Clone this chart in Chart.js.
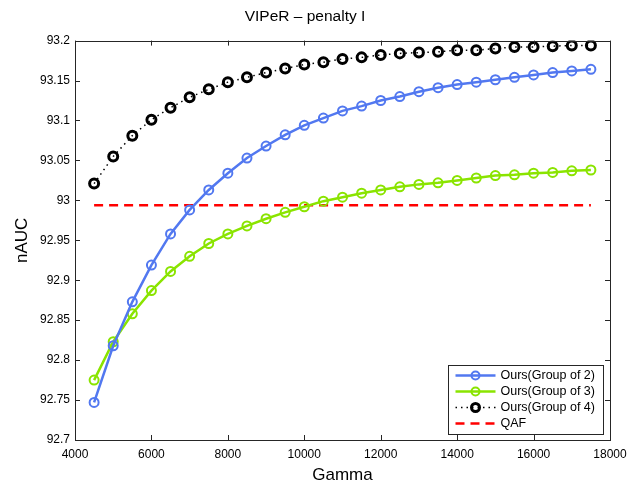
<!DOCTYPE html>
<html><head><meta charset="utf-8">
<script src="https://cdn.jsdelivr.net/npm/chart.js@4.4.0/dist/chart.umd.min.js"></script>
<style>html,body{margin:0;padding:0;background:#fff}canvas{display:block}</style>
</head><body>
<canvas id="c" width="644" height="488"></canvas>
<script>
const gammas = [4500,5000,5500,6000,6500,7000,7500,8000,8500,9000,9500,10000,10500,11000,11500,12000,12500,13000,13500,14000,14500,15000,15500,16000,16500,17000,17500];
const group2 = [92.747,92.818,92.873,92.919,92.958,92.988,93.013,93.034,93.053,93.068,93.082,93.094,93.103,93.112,93.118,93.125,93.130,93.136,93.141,93.145,93.148,93.151,93.154,93.157,93.160,93.162,93.164];
const group3 = [92.775,92.823,92.858,92.887,92.911,92.930,92.946,92.958,92.968,92.977,92.985,92.992,92.999,93.004,93.009,93.013,93.017,93.020,93.022,93.025,93.028,93.031,93.032,93.034,93.035,93.037,93.038];
const group4 = [93.021,93.055,93.081,93.101,93.116,93.129,93.139,93.148,93.154,93.160,93.165,93.170,93.173,93.177,93.179,93.182,93.184,93.185,93.186,93.188,93.188,93.190,93.192,93.192,93.193,93.194,93.194];
const qafValue = 92.994;
const xTickValues = [4000,6000,8000,10000,12000,14000,16000,18000];
const yTickValues = [92.7,92.75,92.8,92.85,92.9,92.95,93,93.05,93.1,93.15,93.2];
const seriesNames = ['Ours(Group of 2)','Ours(Group of 3)','Ours(Group of 4)','QAF'];
const titleText = 'VIPeR \u2013 penalty I';
const xTitle = 'Gamma';
const yTitle = 'nAUC';

const FONT = '"Liberation Sans", Arial, Helvetica, sans-serif';
const pts = arr => gammas.map((g,i)=>({x:g,y:arr[i]}));
const CLEAR = 'rgba(0,0,0,0)';

const datasets = [
  {label:seriesNames[0], data:pts(group2), borderColor:'rgb(82,120,240)', borderWidth:2.5,
   pointRadius:4.5, pointBorderWidth:2, pointBorderColor:'rgb(82,120,240)', pointBackgroundColor:CLEAR},
  {label:seriesNames[1], data:pts(group3), borderColor:'rgb(138,228,0)', borderWidth:2.5,
   pointRadius:4.5, pointBorderWidth:2, pointBorderColor:'rgb(138,228,0)', pointBackgroundColor:CLEAR},
  {label:seriesNames[2], data:pts(group4), borderColor:'#000', borderWidth:1.5, borderDash:[1.5,4],
   pointRadius:4.5, pointBorderWidth:3, pointBorderColor:'#000', pointBackgroundColor:CLEAR},
  {label:seriesNames[3], data:[{x:gammas[0],y:qafValue},{x:gammas[gammas.length-1],y:qafValue}],
   borderColor:'#ff0000', borderWidth:2.5, borderDash:[9,6], pointRadius:0}
];
datasets.forEach(d=>{d.fill=false; d.tension=0; d.showLine=true;});

const boxTicks = {id:'boxTicks', afterDraw(chart){
  const {ctx, chartArea:ca, scales:{x,y}} = chart;
  ctx.save();
  ctx.strokeStyle='#262626'; ctx.lineWidth=1; ctx.setLineDash([]);
  ctx.strokeRect(Math.round(ca.left)+0.5, Math.round(ca.top)+0.5, Math.round(ca.right-ca.left), Math.round(ca.bottom-ca.top));
  const L=5;
  const line=(a,b,c,d)=>{ctx.beginPath();ctx.moveTo(a,b);ctx.lineTo(c,d);ctx.stroke();};
  x.ticks.forEach(t=>{const p=Math.round(x.getPixelForValue(t.value))+0.5;
    line(p,ca.bottom,p,ca.bottom-L); line(p,ca.top,p,ca.top+L);});
  y.ticks.forEach(t=>{const p=Math.round(y.getPixelForValue(t.value))+0.5;
    line(ca.left,p,ca.left+L,p); line(ca.right,p,ca.right-L,p);});
  ctx.restore();
}};

const legendBox = {id:'legendBox', afterDraw(chart){
  const {ctx, chartArea:ca} = chart;
  const w=155, h=69;
  const x0=Math.round(ca.right-7-w)+0.5, y0=Math.round(ca.bottom-6-h)+0.5;
  ctx.save();
  ctx.fillStyle='#fff'; ctx.fillRect(x0,y0,w,h);
  ctx.strokeStyle='#262626'; ctx.lineWidth=1; ctx.setLineDash([]);
  ctx.strokeRect(x0,y0,w,h);
  ctx.font='12.5px '+FONT; ctx.textBaseline='middle'; ctx.textAlign='left';
  chart.data.datasets.forEach((d,i)=>{
    const cy=y0+10+i*16;
    ctx.strokeStyle=d.borderColor; ctx.lineWidth=d.borderWidth;
    ctx.setLineDash(d.borderDash||[]);
    ctx.beginPath(); ctx.moveTo(x0+7,cy); ctx.lineTo(x0+47,cy); ctx.stroke();
    ctx.setLineDash([]);
    if(d.pointRadius>0){
      ctx.lineWidth=d.pointBorderWidth; ctx.strokeStyle=d.pointBorderColor;
      ctx.beginPath(); ctx.arc(x0+27,cy,d.pointRadius-0.5,0,Math.PI*2); ctx.stroke();
    }
    ctx.fillStyle='#000'; ctx.fillText(d.label,x0+52,cy+0.5);
  });
  ctx.restore();
}};

new Chart(document.getElementById('c'), {
  type:'line',
  data:{datasets},
  plugins:[boxTicks, legendBox],
  options:{
    responsive:false, animation:false, devicePixelRatio:1,
    layout:{padding:{left:0,right:34,top:0,bottom:0}},
    plugins:{
      legend:{display:false}, tooltip:{enabled:false},
      title:{display:true, text:titleText, color:'#000',
        font:{family:FONT,size:15.5,weight:'normal'}, padding:{top:7,bottom:15}}
    },
    scales:{
      x:{type:'linear', min:4000, max:18000,
        afterBuildTicks:s=>{s.ticks=xTickValues.map(v=>({value:v}));},
        afterFit:s=>{s.height=48;},
        grid:{display:false, drawTicks:false}, border:{display:false},
        ticks:{padding:7,color:'#000',font:{family:FONT,size:12},maxRotation:0,autoSkip:false,callback:v=>String(v)},
        title:{display:true,text:xTitle,color:'#000',font:{family:FONT,size:17},padding:{top:0,bottom:2}}
      },
      y:{type:'linear', min:92.7, max:93.2,
        afterBuildTicks:s=>{s.ticks=yTickValues.map(v=>({value:v}));},
        afterFit:s=>{s.width=75;},
        grid:{display:false, drawTicks:false}, border:{display:false},
        ticks:{padding:5,color:'#000',font:{family:FONT,size:12},autoSkip:false,callback:v=>String(v)},
        title:{display:true,text:yTitle,color:'#000',font:{family:FONT,size:17},padding:{top:12,bottom:0}}
      }
    }
  }
});
</script>
</body></html>
